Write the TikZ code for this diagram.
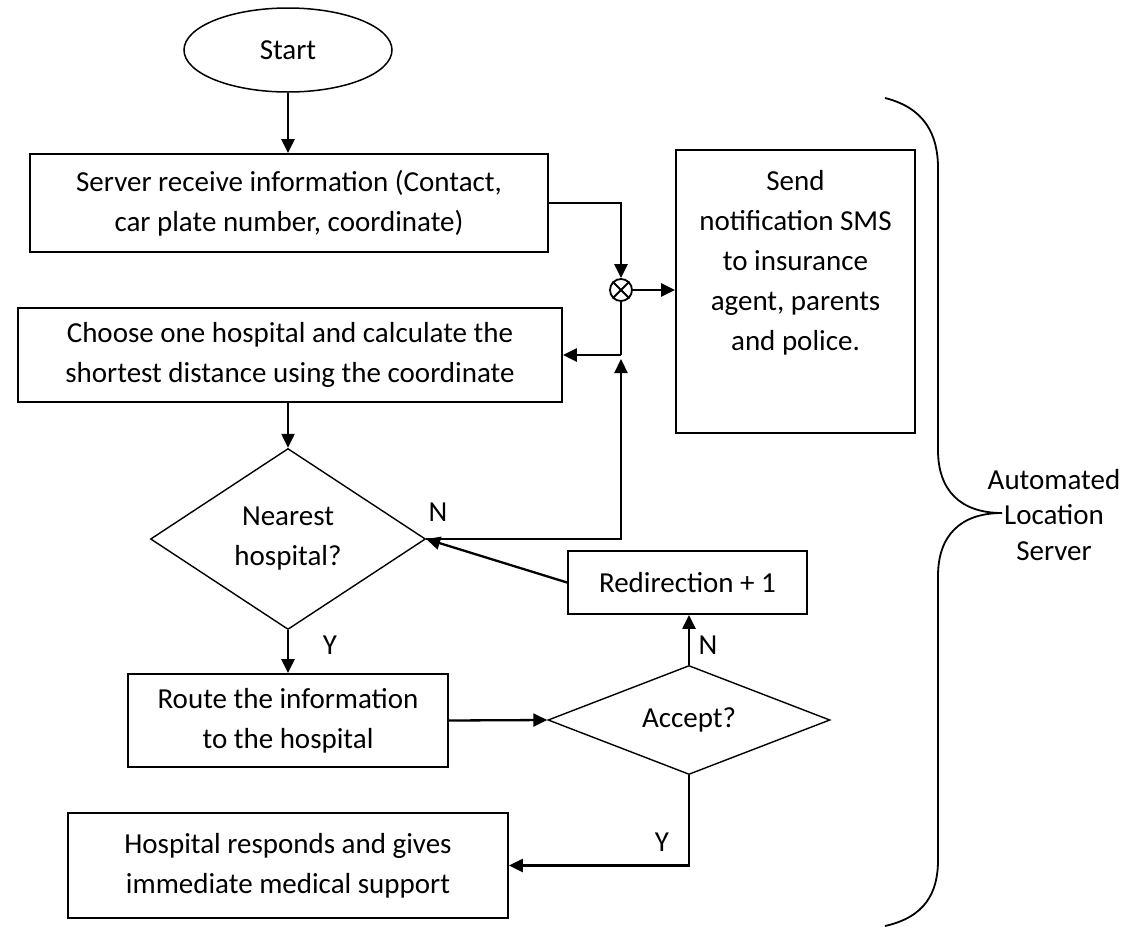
\documentclass[tikz,border=0pt]{standalone}
\usepackage{fontspec}
\setmainfont{Carlito}
\usetikzlibrary{arrows.meta,shapes.geometric,calc}
\begin{document}
\begin{tikzpicture}[x=1pt,y=-1pt,
  font=\fontsize{29}{40}\selectfont,
  box/.style={draw, line width=1.8pt, inner sep=0pt, align=center},
  dec/.style={draw, diamond, line width=1.4pt, inner sep=0pt, align=center},
  arr/.style={line width=2.3pt, -{Triangle[length=14pt,width=13pt]}},
  ln/.style={line width=2.3pt},
  lbl/.style={inner sep=0pt}]
\fill[white] (0,0) rectangle (1136,927);
\useasboundingbox (0,0) rectangle (1136,927);

\node[box, ellipse, line width=1.5pt, minimum width=208pt, minimum height=84pt] (start) at (288,50) {Start};
\node[box, minimum width=518pt, minimum height=98pt] (recv) at (289,203) {Server receive information (Contact,\\car plate number, coordinate)};
\node[box, minimum width=544pt, minimum height=94pt] (choose) at (290,355) {Choose one hospital and calculate the\\shortest distance using the coordinate};
\node[dec, minimum width=275pt, minimum height=181pt, aspect=1.52] (near) at (288,539) {Nearest\\hospital?};
\node[box, minimum width=320pt, minimum height=93pt] (route) at (288,720.5) {Route the information\\to the hospital};
\node[dec, minimum width=282pt, minimum height=109pt, aspect=2.59] (acc) at (689,720) {Accept?};
\node[box, minimum width=440pt, minimum height=105pt] (hosp) at (288,865.5) {Hospital responds and gives\\immediate medical support};
\node[box, minimum width=239pt, minimum height=63pt] (redir) at (687.5,582.5) {Redirection + 1};
\node[box, minimum width=239pt, minimum height=283pt] (send) at (795.5,291.5) {};
\node[anchor=north, align=center, inner sep=0pt] (sendtxt) at (795.5,170) {Send\\notification SMS\\to insurance\\agent, parents\\and police.};
\node[draw, circle, line width=1.8pt, minimum size=22pt, inner sep=0pt] (ox) at (621,290) {};
\draw[line width=1.8pt] (ox.north west) -- (ox.south east) (ox.north east) -- (ox.south west);

\coordinate (j) at (621,355);
\coordinate (up) at (621,359);

\draw[arr] (start.south) -- (start.south |- recv.north);
\draw[arr] (recv.east) -| (ox.north);
\draw[arr] (ox.east) -- (ox.east -| send.west);
\draw[ln] (ox.south) -- (j);
\draw[arr] (j) -- (j -| choose.east);
\draw[arr] (near.east) -| (up);
\draw[arr] (redir.west) -- (near.east);
\draw[arr] (near.north |- choose.south) -- (near.north);
\draw[arr] (near.south) -- (route.north);
\draw[arr] (route.east) -- (acc.west);
\draw[arr] (acc.north) -- (acc.north |- redir.south);
\draw[arr] (acc.south) |- (hosp.east);

\node[lbl] (nl1) at (438,512) {N};
\node[lbl] (yl1) at (330,645) {Y};
\node[lbl] (nl2) at (708,645) {N};
\node[lbl] (yl2) at (662,842) {Y};

\draw[line width=1.8pt] (885,98) .. controls (925,108) and (938,135) .. (938,168) -- (938,450)
  .. controls (938,490) and (960,513) .. (1002,513)
  .. controls (960,513) and (938,536) .. (938,576) -- (938,860)
  .. controls (938,893) and (925,917) .. (885,926);
\node[align=center, inner sep=0pt, font=\fontsize{29}{35.4}\selectfont] (als) at (1054,515) {Automated\\Location\\Server};
\end{tikzpicture}
\end{document}
